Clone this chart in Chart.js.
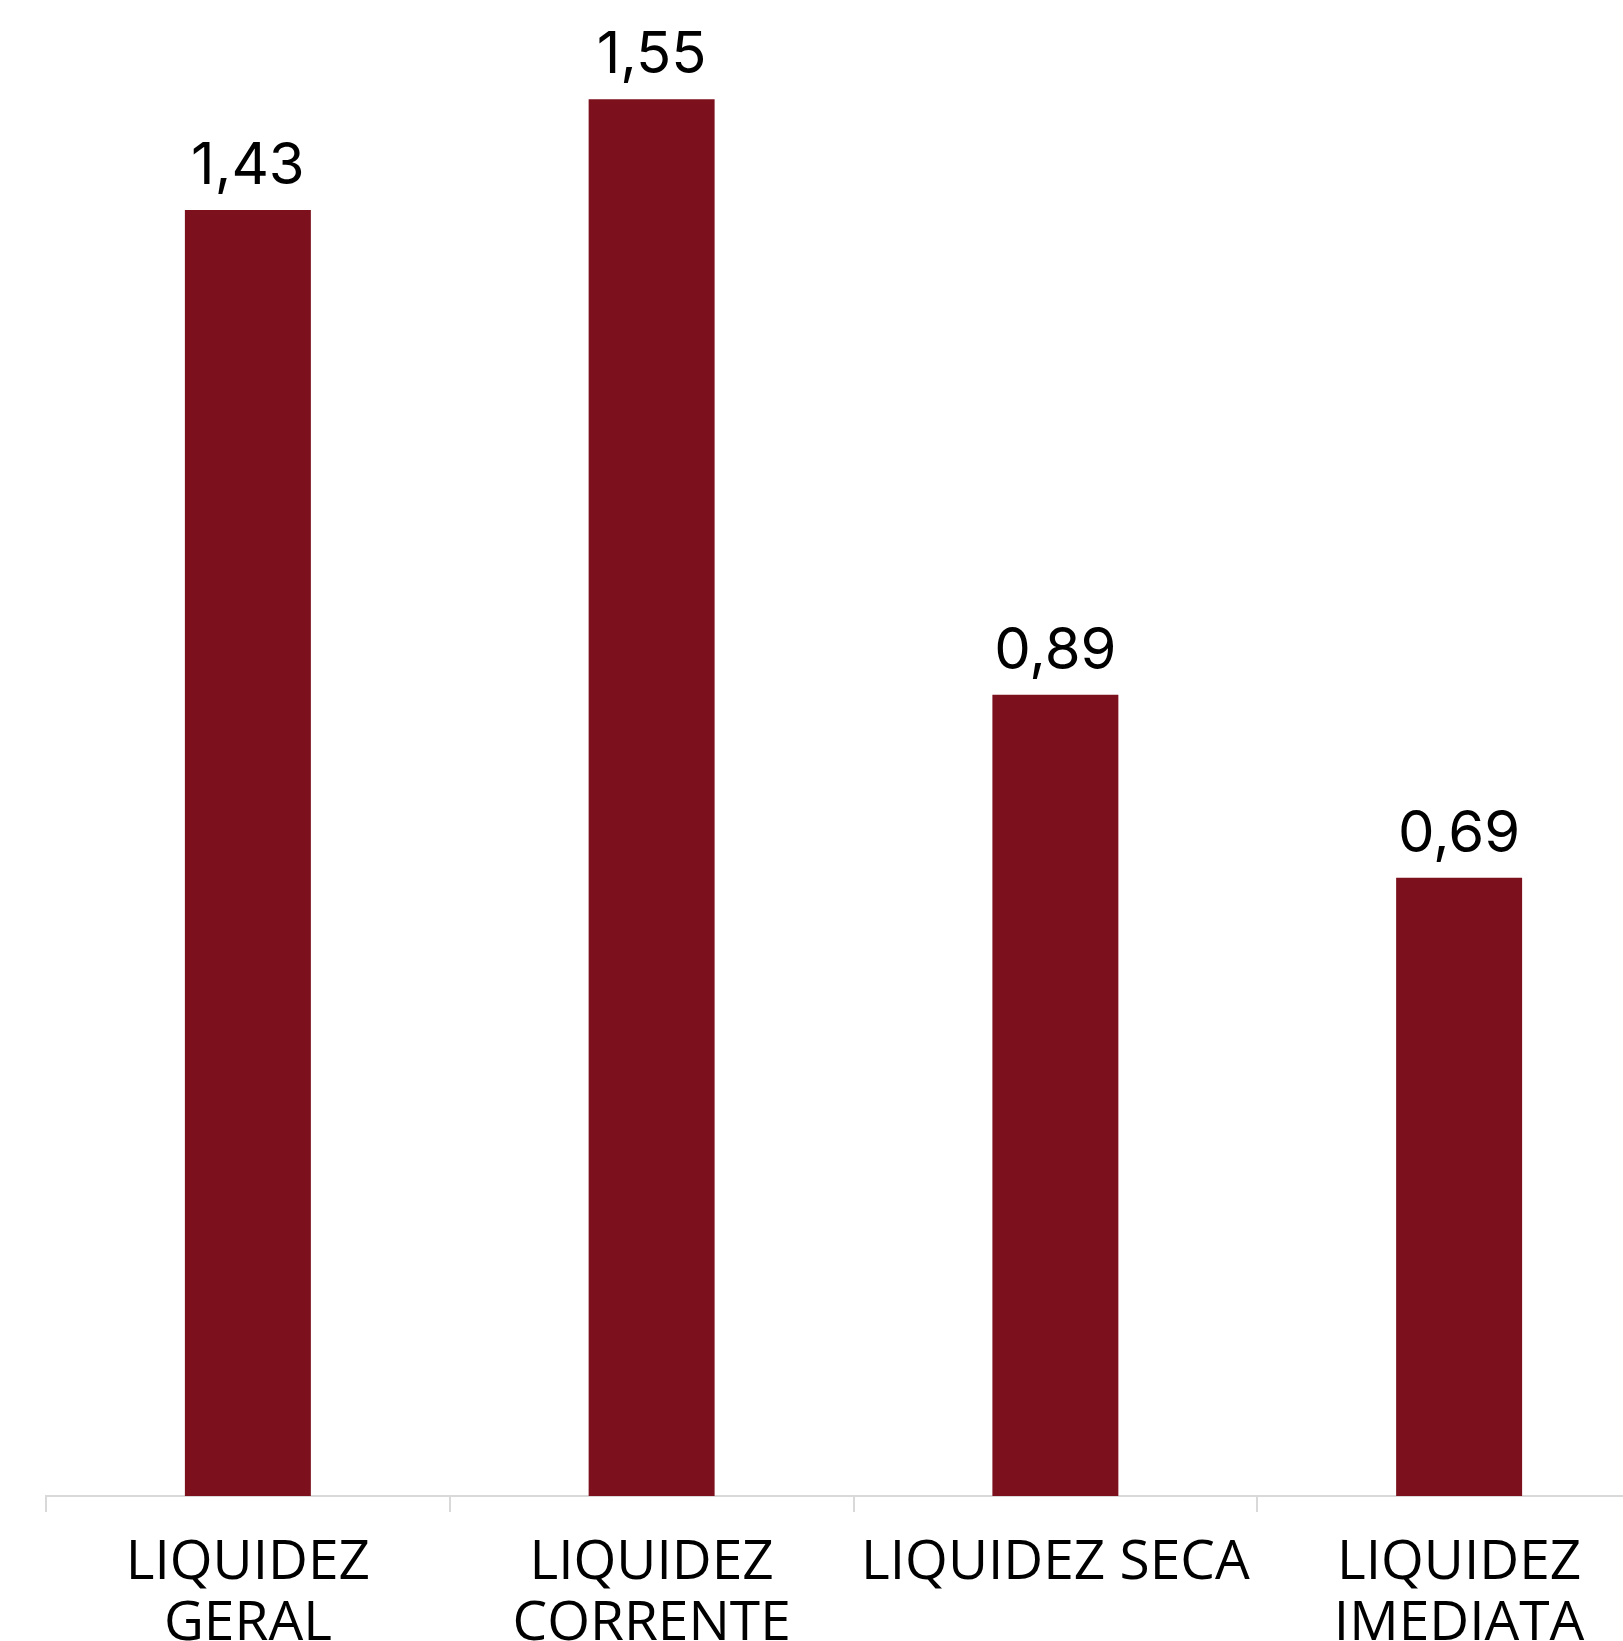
<!DOCTYPE html>
<html>
<head>
<meta charset="utf-8">
<script src="https://cdn.jsdelivr.net/npm/chart.js@4"></script>
<style>
  html, body { margin: 0; padding: 0; background: #fff; overflow: hidden; }
  #wrap { position: absolute; left: 0; top: 0; width: 1661px; height: 1720px; }
</style>
</head>
<body>
<div id="wrap"><canvas id="liquidez"></canvas></div>
<script>
const categorias = [
    ['LIQUIDEZ', 'GERAL'],
    ['LIQUIDEZ', 'CORRENTE'],
    'LIQUIDEZ SECA',
    ['LIQUIDEZ', 'IMEDIATA']
];
const indices = [1.427, 1.550, 0.889, 0.686];

// escreve o valor em cima de cada barra
const rotulosValor = {
    id: 'rotulosValor',
    afterDatasetsDraw(chart) {
        const ctx = chart.ctx;
        const meta = chart.getDatasetMeta(0);
        ctx.save();
        ctx.font = '58px Inter';
        ctx.fillStyle = '#000';
        ctx.textAlign = 'center';
        ctx.textBaseline = 'alphabetic';
        meta.data.forEach(function (bar, i) {
            const txt = indices[i].toFixed(2).replace('.', ',');
            ctx.fillText(txt, bar.x, bar.y - 26);
        });
        ctx.restore();
    }
};

const ctx = document.getElementById('liquidez');

new Chart(ctx, {
    type: 'bar',
    data: {
        labels: categorias,
        datasets: [{
            data: indices,
            backgroundColor: '#7C101C',
            borderWidth: 0,
            categoryPercentage: 1,
            barPercentage: 0.312
        }]
    },
    options: {
        responsive: true,
        maintainAspectRatio: false,
        animation: false,
        layout: { padding: { left: 46, right: 0, top: 0, bottom: 0 } },
        plugins: {
            legend: { display: false },
            tooltip: { enabled: false }
        },
        scales: {
            y: {
                display: false,
                min: 0,
                max: 1.66
            },
            x: {
                afterFit: function (scale) { scale.height = 224; },
                grid: {
                    offset: true,
                    drawOnChartArea: false,
                    drawTicks: true,
                    tickLength: 16,
                    color: '#d9d9d9',
                    lineWidth: 2
                },
                border: { display: true, color: '#d9d9d9', width: 2 },
                ticks: {
                    color: '#000',
                    padding: 21,
                    maxRotation: 0,
                    autoSkip: false,
                    font: { family: '"Open Sans"', size: 55, lineHeight: 1.11 }
                }
            }
        }
    },
    plugins: [rotulosValor]
});
</script>
</body>
</html>
